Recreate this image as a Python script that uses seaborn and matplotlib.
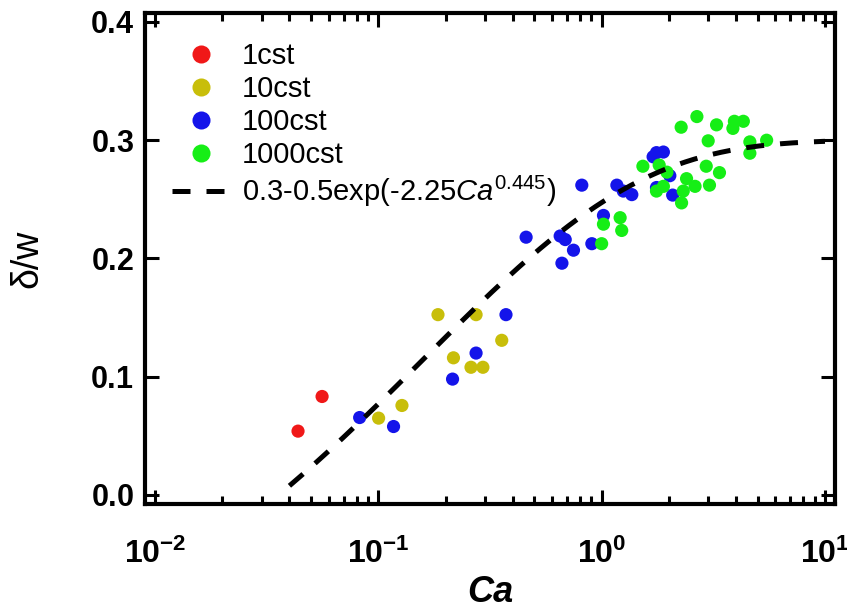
import numpy as np
import pandas as pd
import matplotlib
matplotlib.use("Agg")
import matplotlib.pyplot as plt
from matplotlib.lines import Line2D
from matplotlib.ticker import FixedLocator, LogLocator, FuncFormatter, NullFormatter
import seaborn as sns

# Film thickness ratio delta/w versus capillary number Ca, per oil viscosity
ca_1cst = [0.0437, 0.056]
dw_1cst = [0.054, 0.0833]

ca_10cst = [0.1003, 0.1276, 0.185, 0.217, 0.260, 0.274, 0.294, 0.357]
dw_10cst = [0.065, 0.0757, 0.1525, 0.116, 0.108, 0.1525, 0.108, 0.1308]

ca_100cst = [0.0825, 0.117, 0.215, 0.274, 0.373, 0.459, 0.652, 0.687, 0.748,
             0.664, 0.815, 0.904, 1.019, 1.17, 1.25, 1.365, 1.70, 1.76, 1.89,
             2.02, 1.76, 2.08]
dw_100cst = [0.0655, 0.0579, 0.098, 0.120, 0.1525, 0.218, 0.219, 0.216, 0.207,
             0.196, 0.262, 0.2125, 0.2364, 0.262, 0.257, 0.254, 0.286, 0.2895,
             0.290, 0.270, 0.260, 0.2536]

ca_1000cst = [1.0, 1.019, 1.21, 1.23, 1.53, 1.81, 1.96, 1.89, 1.76, 2.27, 2.28,
              2.32, 2.40, 2.62, 2.67, 2.94, 3.0, 3.04, 3.27, 3.37, 3.87, 3.93,
              4.31, 4.61, 4.61, 5.48]
dw_1000cst = [0.2125, 0.229, 0.2345, 0.2237, 0.278, 0.279, 0.273, 0.261, 0.257,
              0.311, 0.247, 0.257, 0.2675, 0.261, 0.320, 0.278, 0.2995, 0.262,
              0.313, 0.2726, 0.310, 0.316, 0.316, 0.2986, 0.289, 0.300]

oils = ["1cst", "10cst", "100cst", "1000cst"]
colors = ["#f01818", "#c8be0a", "#1414ea", "#16ee16"]

# Fitted correlation and the Ca range it is drawn over
fit_a, fit_b, fit_c, fit_n = 0.3, 0.5, 2.25, 0.445
fit_ca_range = [0.04, 10.0]

sns.set_theme(style="ticks")
plt.rcParams["font.family"] = ["Liberation Sans", "DejaVu Sans"]
plt.rcParams["mathtext.fontset"] = "custom"
plt.rcParams["mathtext.rm"] = "Liberation Sans"
plt.rcParams["mathtext.it"] = "Liberation Sans:italic"
plt.rcParams["mathtext.bf"] = "Liberation Sans:bold"
plt.rcParams["text.color"] = "black"
plt.rcParams["axes.labelcolor"] = "black"

frames = []
for name, xs, ys in zip(oils,
                        [ca_1cst, ca_10cst, ca_100cst, ca_1000cst],
                        [dw_1cst, dw_10cst, dw_100cst, dw_1000cst]):
    frames.append(pd.DataFrame({"Ca": xs, "dw": ys, "oil": name}))
df = pd.concat(frames, ignore_index=True)

ca_fit = np.logspace(np.log10(fit_ca_range[0]), np.log10(fit_ca_range[1]), 300)
dw_fit = fit_a - fit_b * np.exp(-fit_c * ca_fit ** fit_n)

fig = plt.figure(figsize=(8.47, 6.12), dpi=100)
ax = fig.add_axes([0.1712, 0.1765, 0.8146, 0.8023])

sns.scatterplot(data=df, x="Ca", y="dw", hue="oil", hue_order=oils,
                palette=dict(zip(oils, colors)), s=90, linewidth=0,
                legend=False, ax=ax, zorder=3)
sns.lineplot(x=ca_fit, y=dw_fit, color="black", lw=3.6, sort=False,
             errorbar=None, ax=ax, zorder=4)
ax.lines[-1].set_dashes((3.6, 3.2))
ax.lines[-1].set_dash_capstyle("butt")

ax.set_xscale("log")
ax.set_xlim(10 ** -2.0447, 10 ** 1.0448)
ax.set_ylim(-0.0076, 0.4076)

ax.xaxis.set_major_locator(FixedLocator([1e-2, 1e-1, 1e0, 1e1]))
ax.xaxis.set_minor_locator(LogLocator(base=10, subs=np.arange(2, 10), numticks=20))
ax.xaxis.set_minor_formatter(NullFormatter())
ax.xaxis.set_major_formatter(
    FuncFormatter(lambda v, p: r"$\mathbf{10^{%d}}$" % round(np.log10(v))))
ax.yaxis.set_major_locator(FixedLocator([0.0, 0.1, 0.2, 0.3, 0.4]))
ax.yaxis.set_major_formatter(FuncFormatter(lambda v, p: r"$\mathbf{%.1f}$" % v))

ax.tick_params(which="both", direction="in", top=True, right=True,
               width=2.2, color="black", labelcolor="black")
ax.tick_params(which="major", length=10)
ax.tick_params(which="minor", length=5.5)
ax.tick_params(axis="x", which="major", pad=25, labelsize=23)
ax.tick_params(axis="y", which="major", pad=8, labelsize=22)

for sp in ax.spines.values():
    sp.set_linewidth(3)
    sp.set_color("black")

ax.set_xlabel("Ca", fontsize=26, fontweight="bold", fontstyle="italic")
ax.set_ylabel("δ/w", fontsize=27)
ax.xaxis.label.set_va("center")
ax.yaxis.label.set_va("center")
ax.xaxis.set_label_coords(0.5, -0.18)
ax.yaxis.set_label_coords(-0.171, 0.5)

handles = [Line2D([], [], ls="none", marker="o", ms=13, mfc=c, mec="none")
           for c in colors]
handles.append(Line2D([], [], color="black", lw=3.6, dashes=(3.6, 3.2)))
labels = oils + [r"0.3-0.5exp(-2.25$\mathit{Ca}^{0.445}$)"]
ax.legend(handles, labels, loc="upper left", bbox_to_anchor=(0.039, 0.94),
          frameon=False, fontsize=21, handlelength=2.0, handletextpad=0.4,
          labelspacing=0.17, borderaxespad=0, borderpad=0)

fig.savefig("out.png", dpi=100)
